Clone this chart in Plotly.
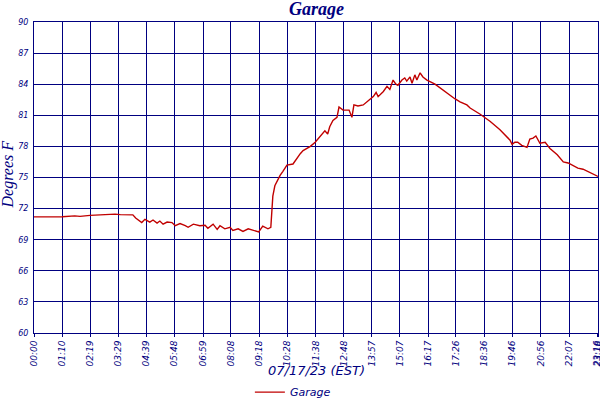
import plotly.graph_objects as go

# ---- data ----
times = ["00:00","00:40","01:10","01:41","01:54","02:19","02:44","03:09","03:21","03:34",
         "03:58","04:05","04:12","04:20","04:27","04:35","04:47","04:55","05:05","05:12",
         "05:20","05:30","05:42","05:50","06:02","06:15","06:22","06:35","06:51","07:04",
         "07:11","07:24","07:34","07:41","07:53","08:06","08:13","08:26","08:38","08:51",
         "09:08","09:17","09:27","09:40","09:47","09:50","09:52","09:57","10:02","10:10",
         "10:17","10:27","10:42","10:52","11:00","11:07","11:25","11:37","11:49","12:01",
         "12:08","12:13","12:21","12:31","12:36","12:46","13:01","13:08","13:13","13:23",
         "13:36","13:53","14:01","14:08","14:13","14:26","14:35","14:42","14:50","14:57",
         "15:02","15:12","15:19","15:24","15:32","15:37","15:44","15:49","15:57","16:04",
         "16:14","16:34","16:54","17:11","17:23","17:36","17:53","18:01","18:26","18:51",
         "19:15","19:40","19:45","19:52","19:59","20:09","20:22","20:29","20:37","20:44",
         "20:54","21:07","21:19","21:37","21:52","22:04","22:17","22:28","22:41","22:58",
         "23:11","23:18"]
temps = [71.2, 71.2, 71.22, 71.3, 71.25, 71.35, 71.4, 71.42, 71.47, 71.42,
         71.45, 71.4, 71.1, 70.85, 70.65, 70.97, 70.7, 70.9, 70.6, 70.8,
         70.5, 70.7, 70.65, 70.35, 70.55, 70.35, 70.2, 70.5, 70.35, 70.4,
         70.1, 70.5, 70.0, 70.35, 70.05, 70.2, 69.9, 70.05, 69.8, 70.05,
         69.9, 69.75, 70.3, 70.05, 70.2, 71.8, 73.2, 74.2, 74.6, 75.2,
         75.6, 76.2, 76.3, 76.9, 77.3, 77.6, 78.0, 78.4, 78.9, 79.5,
         79.2, 79.9, 80.5, 80.8, 81.8, 81.5, 81.5, 80.8, 82.0, 81.9,
         82.0, 82.5, 82.8, 83.2, 82.8, 83.3, 83.8, 83.5, 84.4, 84.0,
         83.9, 84.4, 84.6, 84.3, 84.7, 84.1, 84.9, 84.4, 85.1, 84.7,
         84.4, 84.0, 83.4, 82.9, 82.6, 82.3, 82.0, 81.7, 81.1, 80.4,
         79.6, 78.6, 78.2, 78.4, 78.4, 78.1, 77.9, 78.7, 78.8, 79.0,
         78.3, 78.4, 77.8, 77.2, 76.5, 76.4, 76.1, 75.9, 75.8, 75.5,
         75.2, 75.1]
tick_labels = ["00:00","01:10","02:19","03:29","04:39","05:48","06:59","08:08","09:18",
               "10:28","11:38","12:48","13:57","15:07","16:17","17:26","18:36","19:46",
               "20:56","22:07","23:16","23:18"]
y_ticks = [60, 63, 66, 69, 72, 75, 78, 81, 84, 87, 90]

def to_min(s):
    h, m = s.split(":")
    return int(h) * 60 + int(m)

x_vals = [to_min(t) for t in times]
tick_vals = [to_min(t) for t in tick_labels]

NAVY = "#000080"
RED = "#c00000"

fig = go.Figure()
fig.add_trace(go.Scatter(x=x_vals, y=temps, mode="lines", name="Garage",
                         line=dict(color=RED, width=1.4),
                         customdata=times,
                         hovertemplate="%{customdata}: %{y}<extra></extra>"))

fig.update_layout(
    width=600, height=400,
    margin=dict(l=34, r=2, t=22, b=67, autoexpand=False),
    paper_bgcolor="white", plot_bgcolor="white",
    showlegend=True,
    legend=dict(orientation="h", x=0.459, xanchor="center", y=-0.19, yanchor="middle",
                font=dict(family="DejaVu Sans", size=11, color=NAVY, style="italic"),
                itemwidth=30),
)
fig.update_xaxes(range=[0, 1398], tickvals=tick_vals, ticktext=tick_labels,
                 automargin=False, ticklabeloverflow="allow",
                 tickangle=-90, ticks="outside", ticklen=3, tickcolor=NAVY,
                 tickfont=dict(family="DejaVu Sans", size=9, color=NAVY, style="italic"),
                 showgrid=True, gridcolor=NAVY, gridwidth=1,
                 showline=True, linecolor=NAVY, linewidth=1, mirror=True, zeroline=False)
fig.update_yaxes(range=[60, 90], tickvals=y_ticks, automargin=False,
                 ticks="", ticklabelstandoff=3,
                 tickfont=dict(family="DejaVu Sans", size=8, color=NAVY, style="italic"),
                 showgrid=True, gridcolor=NAVY, gridwidth=1,
                 showline=True, linecolor=NAVY, linewidth=1, mirror=True, zeroline=False)

fig.add_annotation(text="<b><i>Garage</i></b>", xref="paper", yref="paper", x=0.5, y=1.042,
                   yanchor="middle", showarrow=False,
                   font=dict(family="Liberation Serif", size=18, color=NAVY))
fig.add_annotation(text="Degrees F", xref="paper", yref="paper", x=-0.046, y=0.51,
                   textangle=-90, showarrow=False, xanchor="center",
                   font=dict(family="Liberation Serif", size=16, color=NAVY, style="italic"))
fig.add_annotation(text="07/17/23 (EST)", xref="paper", yref="paper", x=0.5, y=-0.122,
                   showarrow=False, yanchor="middle",
                   font=dict(family="DejaVu Sans", size=13, color=NAVY, style="italic"))

fig.write_html("out.html", config={"displayModeBar": False},
               post_script="document.body.style.margin='0';document.body.style.overflow='hidden';")
